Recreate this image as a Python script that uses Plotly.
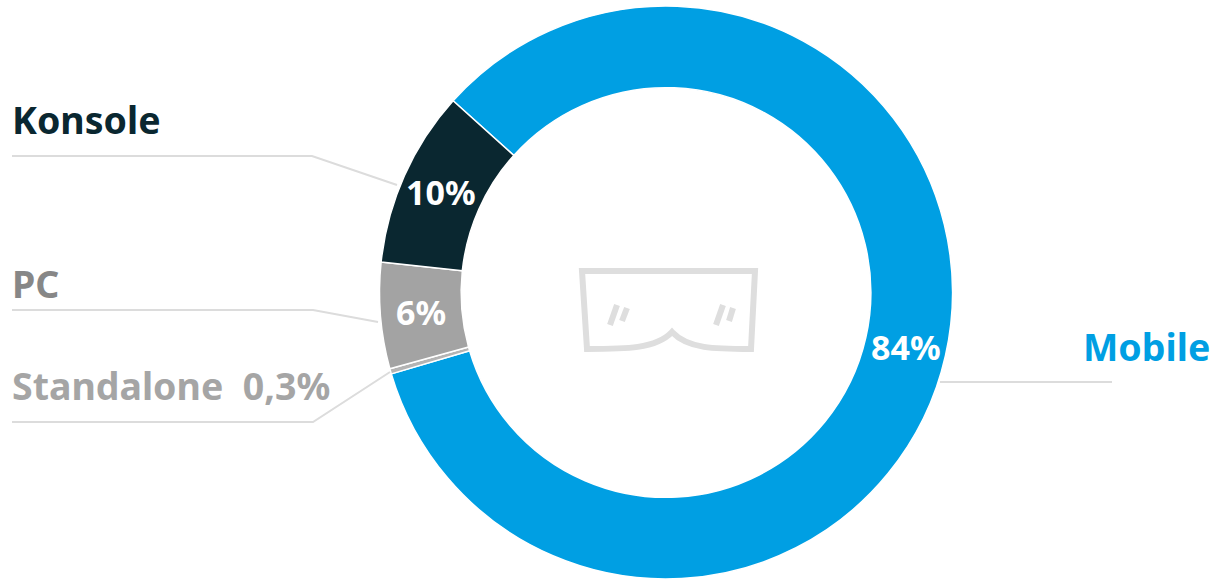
import math

import plotly.graph_objects as go

WIDTH, HEIGHT = 1216, 579
FONT = "Noto Sans"

# Platform shares in percent, in clockwise drawing order
platforms = ["Mobile", "Standalone", "PC", "Konsole"]
shares = [84, 0.3, 6, 10]
share_labels = ["84%", "", "6%", "10%"]
slice_colors = ["#009fe3", "#b4b4b4", "#a3a3a3", "#0a2730"]

# Callout captions beside the ring
captions = ["Konsole", "PC", "Standalone\u00a0\u00a00,3%", "Mobile"]
caption_colors = ["#0a2730", "#878787", "#a5a5a5", "#009fe3"]

# Ring geometry in pixels
LEFT, RIGHT, TOP, BOTTOM = 379, 953, 6, 579
HOLE = 0.715
START_ANGLE = -48


def px(x):
    return x / WIDTH


def py(y):
    return 1 - y / HEIGHT


def svg_path(commands):
    """Build an SVG path in paper space from (command, pixel points) pairs."""
    parts = []
    for cmd, pts in commands:
        coords = " ".join(f"{px(x):.5f},{py(y):.5f}" for x, y in pts)
        parts.append(f"{cmd}{coords}")
    return " ".join(parts)


fig = go.Figure(
    go.Pie(
        labels=platforms,
        values=shares,
        textinfo="none",
        marker=dict(colors=slice_colors, line=dict(color="white", width=1.5)),
        hole=HOLE,
        sort=False,
        direction="clockwise",
        rotation=START_ANGLE,
        domain=dict(x=[px(LEFT), px(RIGHT)], y=[py(BOTTOM), py(TOP)]),
        showlegend=False,
    )
)

# Leader lines from the captions to the ring
leaders = [
    [(12, 156), (312, 156), (397, 185)],
    [(12, 310), (313, 310), (378, 322)],
    [(12, 422), (313, 422), (390, 372)],
    [(940, 382), (1112, 382)],
]
shapes = []
for pts in leaders:
    cmds = [("M", pts[:1])] + [("L", [p]) for p in pts[1:]]
    shapes.append(dict(type="path", xref="paper", yref="paper", path=svg_path(cmds),
                       line=dict(color="#dcdcdc", width=2)))

# VR headset icon in the middle of the ring
ICON = "#dedede"
icon_body = [
    ("M", [(582, 271)]),
    ("L", [(755, 271)]),
    ("L", [(751, 349)]),
    ("C", [(715, 349), (688, 349), (672, 332)]),
    ("C", [(656, 349), (625, 349), (587, 349)]),
    ("Z", []),
]
shapes.append(dict(type="path", xref="paper", yref="paper", path=svg_path(icon_body),
                   line=dict(color=ICON, width=6)))
for a, b in [((617, 305), (610, 325)), ((627, 308), (622, 321)),
             ((723, 305), (716, 325)), ((733, 308), (729, 321))]:
    shapes.append(dict(type="path", xref="paper", yref="paper",
                       path=svg_path([("M", [a]), ("L", [b])]),
                       line=dict(color=ICON, width=6)))

caption_spots = [(10, 120, "left"), (10, 283, "left"), (10, 385, "left"), (1212, 347, "right")]
annotations = [
    dict(text=f"<b>{t}</b>", x=px(x), y=py(y), xref="paper", yref="paper",
         xanchor=anchor, yanchor="middle", showarrow=False,
         font=dict(family=FONT, size=37.5, color=c))
    for t, c, (x, y, anchor) in zip(captions, caption_colors, caption_spots)
]

# Percentage labels sit at the angular midpoint of their slice, halfway across the ring
cx, cy = (LEFT + RIGHT) / 2, (TOP + BOTTOM) / 2
outer = (RIGHT - LEFT) / 2
mid_radius = outer * (1 + HOLE) / 2
total = sum(shares)
swept = 0.0
for value, label in zip(shares, share_labels):
    angle = math.radians(START_ANGLE + (swept + value / 2) / total * 360)
    swept += value
    if label:
        annotations.append(
            dict(text=f"<b>{label}</b>",
                 x=px(cx + mid_radius * math.sin(angle)),
                 y=py(cy - mid_radius * math.cos(angle)),
                 xref="paper", yref="paper", xanchor="center", yanchor="middle",
                 showarrow=False, font=dict(family=FONT, size=34, color="white"))
        )

fig.update_layout(
    width=WIDTH,
    height=HEIGHT,
    margin=dict(l=0, r=0, t=0, b=0),
    paper_bgcolor="white",
    plot_bgcolor="white",
    shapes=shapes,
    annotations=annotations,
)

fig.write_html("out.html")
